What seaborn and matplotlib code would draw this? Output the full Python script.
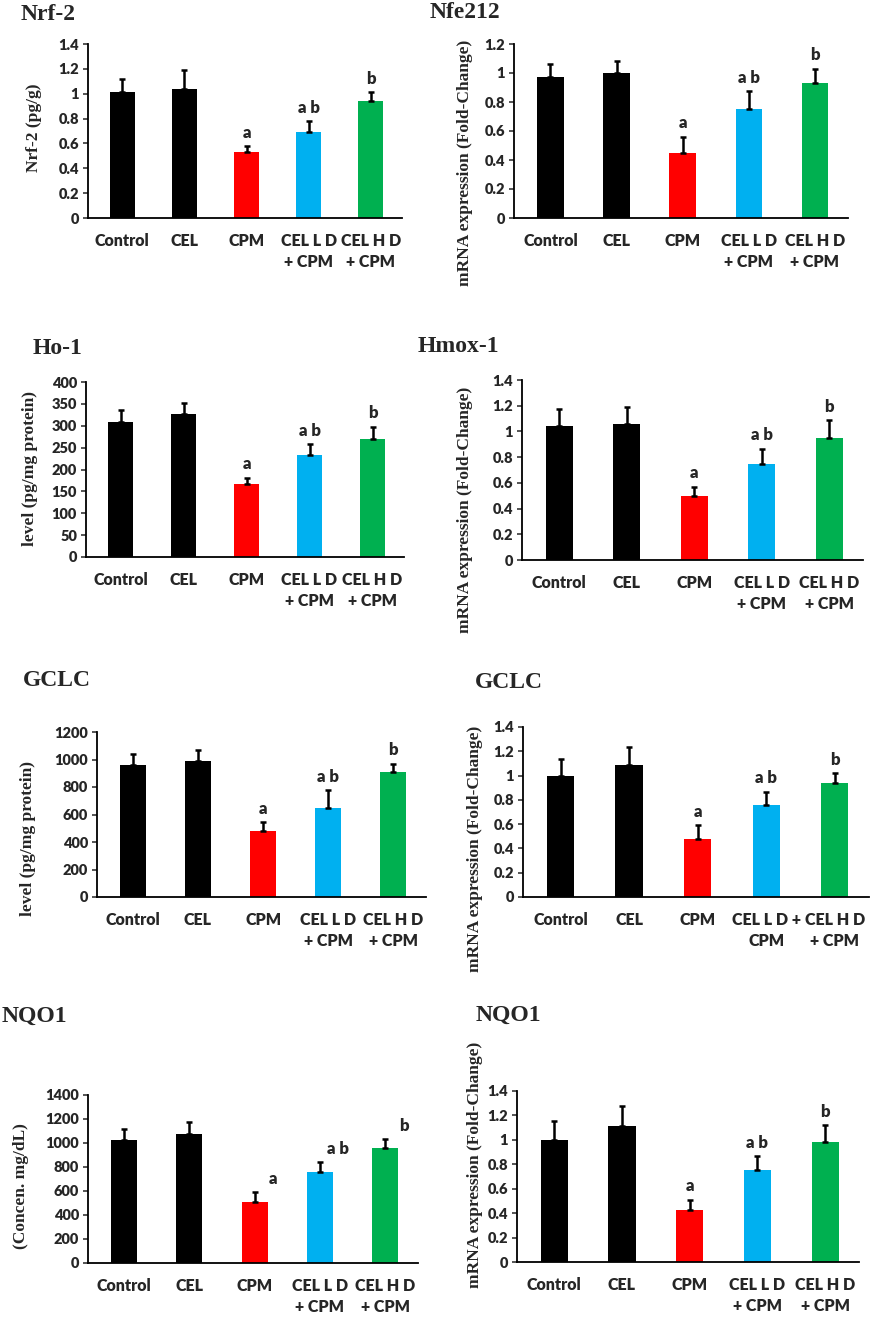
import matplotlib
matplotlib.use("Agg")
import matplotlib.pyplot as plt
import seaborn as sns
import pandas as pd
from matplotlib.ticker import FormatStrFormatter, MultipleLocator

sns.set_style("white")

# ---- data ----
groups = ["Control", "CEL", "CPM", "CEL L D\n+ CPM", "CEL H D\n+ CPM"]
groups_gclc_mrna = ["Control", "CEL", "CPM", "CEL L D +\nCPM", "CEL H D\n+ CPM"]
bar_colors = ["#000000", "#000000", "#FF0000", "#00B0F0", "#00B050"]
sig_letters = ["", "", "a", "a b", "b"]

nrf2_mean = [1.01, 1.04, 0.53, 0.69, 0.94]
nrf2_err = [0.11, 0.15, 0.05, 0.09, 0.07]
nfe212_mean = [0.97, 1.00, 0.45, 0.75, 0.93]
nfe212_err = [0.09, 0.085, 0.11, 0.125, 0.10]
ho1_mean = [309, 327, 168, 233, 270]
ho1_err = [27, 24, 13, 25, 28]
hmox1_mean = [1.04, 1.06, 0.50, 0.75, 0.95]
hmox1_err = [0.135, 0.13, 0.07, 0.115, 0.14]
gclc_prot_mean = [958, 987, 478, 650, 907]
gclc_prot_err = [80, 84, 65, 128, 63]
gclc_mrna_mean = [1.00, 1.09, 0.48, 0.755, 0.935]
gclc_mrna_err = [0.137, 0.148, 0.11, 0.112, 0.083]
nqo1_conc_mean = [1024, 1071, 506, 757, 955]
nqo1_conc_err = [89, 106, 84, 81, 78]
nqo1_mrna_mean = [1.00, 1.11, 0.425, 0.75, 0.98]
nqo1_mrna_err = [0.153, 0.166, 0.085, 0.117, 0.14]

W, H = 872, 1317
fig = plt.figure(figsize=(W / 100, H / 100), dpi=100)

serif = ["Liberation Serif", "DejaVu Serif"]
sans = ["Lato", "DejaVu Sans"]

# (title, ylabel, labels, mean, err, ymax, ystep,
#  axes px box (left, right, top, bottom), title px (x, y), ylabel px (x, y), letter dx)
panels = [
    ("Nrf-2", "Nrf-2 (pg/g)", groups, nrf2_mean, nrf2_err, 1.4, 0.2,
     (88, 402, 44, 218), (21, 15), (34, 128), 0.0),
    ("Nfe212", "mRNA expression (Fold-Change)", groups, nfe212_mean, nfe212_err, 1.2, 0.2,
     (514, 848, 44, 218), (430, 13), (465, 163), 0.0),
    ("Ho-1", "level (pg/mg protein)", groups, ho1_mean, ho1_err, 400, 50,
     (86, 404, 382, 557), (33, 349), (30, 469), 0.0),
    ("Hmox-1", "mRNA expression (Fold-Change)", groups, hmox1_mean, hmox1_err, 1.4, 0.2,
     (522, 863, 380, 560), (418, 347), (465, 510), 0.0),
    ("GCLC", "level (pg/mg protein)", groups, gclc_prot_mean, gclc_prot_err, 1200, 200,
     (97, 426, 732, 897), (23, 680), (28, 839), 0.0),
    ("GCLC", "mRNA expression (Fold-Change)", groups_gclc_mrna, gclc_mrna_mean, gclc_mrna_err, 1.4, 0.2,
     (523, 869, 727, 897), (475, 682), (475, 849), 0.0),
    ("NQO1", "(Concen. mg/dL)", groups, nqo1_conc_mean, nqo1_conc_err, 1400, 200,
     (88, 418, 1095, 1263), (2, 1016), (21, 1186), 0.28),
    ("NQO1", "mRNA expression (Fold-Change)", groups, nqo1_mrna_mean, nqo1_mrna_err, 1.4, 0.2,
     (517, 859, 1091, 1262), (476, 1015), (475, 1165), 0.0),
]

for (title, ylab, labels, mean, err, ymax, ystep, box, tpos, ypos, ldx) in panels:
    l, r, t, b = box
    ax = fig.add_axes([l / W, 1 - b / H, (r - l) / W, (b - t) / H])
    df = pd.DataFrame({"group": labels, "value": mean})
    sns.barplot(data=df, x="group", y="value", hue="group", palette=bar_colors,
                legend=False, width=0.4, errorbar=None, linewidth=0, saturation=1,
                ax=ax)
    xs = list(range(len(labels)))
    ax.errorbar(xs, mean, yerr=[[0] * len(err), err], fmt="none", ecolor="black",
                elinewidth=1.8, capsize=2.2, capthick=1.8)
    for x, m, e, s in zip(xs, mean, err, sig_letters):
        if s:
            ax.annotate(s, (x + ldx, m + e), xytext=(0, 6), textcoords="offset points",
                        ha="center", va="baseline", fontsize=12, fontweight="heavy",
                        family=sans)
    ax.set_xlim(-0.55, 4.5)
    ax.set_ylim(0, ymax)
    ax.yaxis.set_major_locator(MultipleLocator(ystep))
    ax.yaxis.set_major_formatter(FormatStrFormatter("%g"))
    ax.set_xlabel("")
    ax.set_ylabel("")
    for sp in ["top", "right"]:
        ax.spines[sp].set_visible(False)
    for sp in ["left", "bottom"]:
        ax.spines[sp].set_color("black")
        ax.spines[sp].set_linewidth(1.3)
    ax.tick_params(axis="y", direction="out", length=3.5, width=1.1, pad=3, left=True)
    ax.tick_params(axis="x", length=0, pad=11)
    for lab in ax.get_yticklabels():
        lab.set_fontsize(10.5)
        lab.set_fontweight("heavy")
        lab.set_family(sans)
    ax.set_xticks(xs)
    ax.set_xticklabels(labels, fontsize=11.5, fontweight="heavy", family=sans,
                       linespacing=1.35, va="top")
    fig.text(tpos[0] / W, 1 - tpos[1] / H, title, ha="left", va="center",
             fontsize=17, fontweight="bold", family=serif)
    fig.text(ypos[0] / W, 1 - ypos[1] / H, ylab, ha="center", va="center", rotation=90,
             fontsize=12.5, fontweight="bold", family=serif)

fig.savefig("out.png", dpi=100, facecolor="white")
